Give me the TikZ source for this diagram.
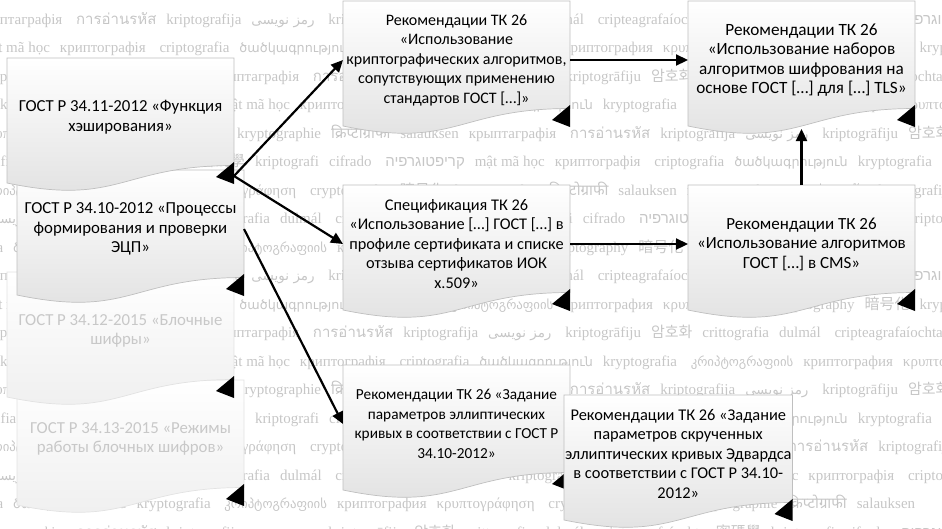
\documentclass[tikz,border=0pt]{standalone}
\usepackage{fontspec}
\setmainfont{Carlito}
\newfontfamily\wmserif{Liberation Serif}
\newfontfamily\devfont[Script=Devanagari]{Noto Sans}
\newfontfamily\thaifont[Script=Thai]{Loma}
\newfontfamily\arabfont[Script=Arabic,Scale=0.9]{DejaVu Sans}
\newfontfamily\hebfont[Script=Hebrew]{Liberation Sans}
\newfontfamily\dejafont[Scale=0.85]{DejaVu Sans}
\newfontfamily\kofont{Noto Sans CJK KR}
\newfontfamily\zhfont{Noto Sans CJK TC}
\newfontfamily\jafont{Noto Sans CJK JP}
\TeXXeTstate=1
\usetikzlibrary{arrows.meta,positioning,calc,backgrounds}
\pgfdeclarelayer{wm}
\pgfsetlayers{wm,background,main}
\definecolor{docedge}{HTML}{BFBFBF}
\definecolor{docshade}{HTML}{E0E0E0}
\definecolor{fadetext}{HTML}{C8C8C8}
\definecolor{fadeedge}{HTML}{E2E2E2}
\definecolor{fadeshade}{HTML}{EEEEEE}
\definecolor{wmgrey}{HTML}{C6C6C6}
\tikzset{
  >=Stealth,
  doc/.style={minimum width=227pt,minimum height=118pt,inner xsep=1pt,inner ysep=0pt,
              outer sep=0pt,align=center,font=\fontsize{16}{19.5}\selectfont},
  fsize/.style={font=\fontsize{#1}{19.5}\selectfont},
  faded/.style={text=fadetext},
  docfill/.style={top color=white,bottom color=docshade,draw=docedge,line width=0.7pt},
  fadefill/.style={top color=white,bottom color=fadeshade,draw=fadeedge,line width=0.7pt},
  corner/.style={fill=black},
  link/.style={-{Triangle[length=12pt,width=11pt]},line width=2.2pt,draw=black},
  wmtext/.style={inner sep=0pt,outer sep=0pt,text=wmgrey,
                 font=\wmserif\fontsize{15}{15}\selectfont},
}
% words of the watermark, in the order they run
\newcommand\kword[1]{\ifcase#1\relax
  \or kryptographie\or{\devfont क्रिप्टोग्राफी}\or salauksen\or крыптаграфія
  \or{\thaifont การอ่านรหัส}\or kriptografija\or{\arabfont\beginR رمز نويسى\endR}
  \or kriptogrāfiju\or{\kofont 암호화}\or crittografia\or dulmál
  \or cripteagrafaíochta\or{\zhfont 密碼學}\or kriptografi\or cifrado
  \or{\hebfont\beginR קריפטוגרפיה\endR}\or mật mã học\or криптографія
  \or criptografia\or{\dejafont ծածկագրություն}\or kryptografia
  \or{\dejafont კრიპტოგრაფიის}\or криптография\or κρυπτογράφηση
  \or cryptography\or{\jafont 暗号化}\fi}
% one watermark line: y, x of the anchor word, words before, words from x
\newcommand\wmline[4]{%
  \node[wmtext,anchor=base east] at (#2,#1) {\foreach\i in {#3}{\kword{\i}\kern10pt}};
  \node[wmtext,anchor=base west] at (#2,#1) {\foreach\i in {#4}{\kword{\i}\kern10pt}};}
\newcommand\wmrow[2]{\ifcase#1\relax
     \wmline{#2}{-25}{1,2,3}{4,...,17}%
  \or\wmline{#2}{-20}{14,15,16}{17,...,26,1}%
  \or\wmline{#2}{-20}{24,25,26}{1,...,14}%
  \or\wmline{#2}{220}{13,14,15,16}{17,...,26,1}%
  \or\wmline{#2}{237}{23,24,25,26}{1,...,10}%
  \or\wmline{#2}{255}{10,11,12,13}{14,...,22}%
  \or\wmline{#2}{310}{21,22,23,24}{25,26,1,2,3,4,5,6,7}%
  \or\wmline{#2}{280}{7,8,9,10}{11,...,19}%
  \or\wmline{#2}{337}{19,20,21,22}{23,24,25,26,1,2,3}%
  \fi}
% document sheet with wavy foot behind a doc node
\newcommand\docshape[2][docfill]{%
  \path[#1] (#2.north west) -- (#2.north east) -- ($(#2.north east)+(0,107.5)$)
    .. controls ($(#2.north)+(0,107.5)$) and ($(#2.north)+(0,148.5)$)
    .. ($(#2.north west)+(0,125)$) -- cycle;
  \fill[corner] ($(#2.north east)+(0,104)$) -- ++(0,22) -- ++(-18,-7) -- cycle;
  \coordinate (#2-wave) at ($(#2.north)+(0,128)$);}
\begin{document}
\begin{tikzpicture}[x=1pt,y=-1pt]
  \useasboundingbox (0,0) rectangle (942,528);

  % GOST standards, stacked
  \node[doc,fsize=16.8] (hashA) at (120.5,117) {ГОСТ Р 34.11-2012 «Функция\\хэширования»};
  \node[doc,fsize=16.8,below=-6pt of hashA,xshift=10pt] (signB) {ГОСТ Р 34.10-2012 «Процессы\\формирования и проверки\\ЭЦП»};
  \node[doc,fsize=16.8,faded,below=-16pt of signB,xshift=-10pt] (blockC) {ГОСТ Р 34.12-2015 «Блочные\\шифры»};
  \node[doc,fsize=16.8,faded,below=-10pt of blockC,xshift=10pt] (modeD) {ГОСТ Р 34.13-2015 «Режимы\\работы блочных шифров»};

  % TK 26 documents
  \node[doc] (algE) at (456.5,60) {Рекомендации ТК 26\\«Использование\\криптографических алгоритмов,\\сопутствующих применению\\стандартов ГОСТ […]»};
  \node[doc,fsize=16.3,below=66pt of algE] (certF) {Спецификация ТК 26\\«Использование […] ГОСТ […] в\\профиле сертификата и списке\\отзыва сертификатов ИОК\\x.509»};
  \node[doc,fsize=15.3,below=62pt of certF] (curveG) {Рекомендации ТК 26 «Задание\\параметров эллиптических\\кривых в соответствии с ГОСТ Р\\34.10-2012»};
  \node[doc,fsize=16.4,right=-6pt of curveG,yshift=-30pt] (edwH) {Рекомендации ТК 26 «Задание\\параметров скрученных\\эллиптических кривых Эдвардса\\в соответствии с ГОСТ Р 34.10-\\2012»};
  \node[doc,fsize=17.2,right=118pt of algE] (tlsI) {Рекомендации ТК 26\\«Использование наборов\\алгоритмов шифрования на\\основе ГОСТ […] для […] TLS»};
  \node[doc,fsize=17,right=118pt of certF] (cmsJ) {Рекомендации ТК 26\\«Использование алгоритмов\\ГОСТ […] в CMS»};

  % sheets, lowest first
  \begin{scope}[on background layer]
    \docshape[fadefill]{modeD}
    \docshape[fadefill]{blockC}
    \docshape{signB}
    \docshape{hashA}
    \docshape{curveG}
    \docshape{edwH}
    \foreach \n in {algE,certF,tlsI,cmsJ} {\docshape{\n}}
  \end{scope}

  % watermark
  \begin{pgfonlayer}{wm}
    \begin{scope}
      \clip (0,0) rectangle (942,528);
      \foreach \k in {0,...,18} {
        \pgfmathtruncatemacro\wmr{mod(\k,9)}
        \pgfmathsetmacro\wmy{24+28.5*\k}
        \wmrow{\wmr}{\wmy}
      }
    \end{scope}
  \end{pgfonlayer}

  \draw[link] (hashA.south east) -- (algE.west);
  \draw[link] (hashA.south east) -- (certF.west);
  \draw[link] (signB.east) -- (curveG.west);
  \draw[link] (algE.east) -- (tlsI.west);
  \draw[link] (certF.east) -- (cmsJ.west);
  \draw[link] (cmsJ.north) -- (tlsI-wave);
\end{tikzpicture}
\end{document}
